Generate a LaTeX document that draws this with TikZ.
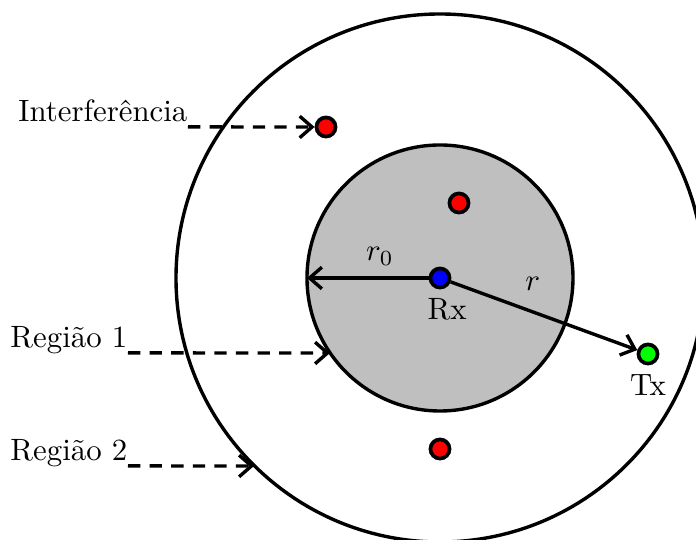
\documentclass[tikz,border=0pt]{standalone}
\usetikzlibrary{arrows.meta}
\tikzset{
  ponto/.style={circle, draw=black, line width=1.2pt, minimum size=6.2pt, inner sep=0pt},
  rotulo/.style={anchor=base east, inner sep=0pt},
  seta/.style={line width=1.1pt, -{Straight Barb[length=4pt, width=7pt]}},
  tracejada/.style={seta, dash pattern=on 4pt off 3pt}
}
\begin{document}
\begin{tikzpicture}[x=0.0114cm, y=-0.0114cm]
\useasboundingbox (0,0) rectangle (696,540);
\clip (0,0) rectangle (696,540);
% regioes
\draw[line width=1.1pt] (440,278) circle[radius=264];
\filldraw[fill=gray!50, draw=black, line width=1.1pt] (440,278) circle[radius=133];
% pontos
\node[ponto, fill=blue] (rx) at (440,278) {};
\node[ponto, fill=green] (tx) at (648,354) {};
\node[ponto, fill=red] (i1) at (326,127) {};
\node[ponto, fill=red] (i2) at (459,203) {};
\node[ponto, fill=red] (i3) at (440,449) {};
\node[below=-0.6pt, xshift=2.3pt] (lrx) at (rx.south) {Rx};
\node[below=-0.6pt] (ltx) at (tx.south) {Tx};
% raios
\coordinate (borda) at (307,278);
\draw[seta] (rx) -- (borda) node[pos=0.4, above=0.2pt] {$r_0$};
\draw[seta] (rx) -- (tx) node[pos=0.44, above=3pt] {$r$};
% legendas
\node[rotulo] (lint) at (188,122) {Interferência};
\node[rotulo] (lreg1) at (128,348) {Região 1};
\node[rotulo] (lreg2) at (128,461) {Região 2};
\coordinate (p1) at (330,353);
\coordinate (p2) at (254,466);
\draw[tracejada] ([yshift=-1.6pt]lint.base east) -- (i1);
\draw[tracejada] ([yshift=-1.6pt]lreg1.base east) -- (p1);
\draw[tracejada] ([yshift=-1.6pt]lreg2.base east) -- (p2);
\end{tikzpicture}
\end{document}
